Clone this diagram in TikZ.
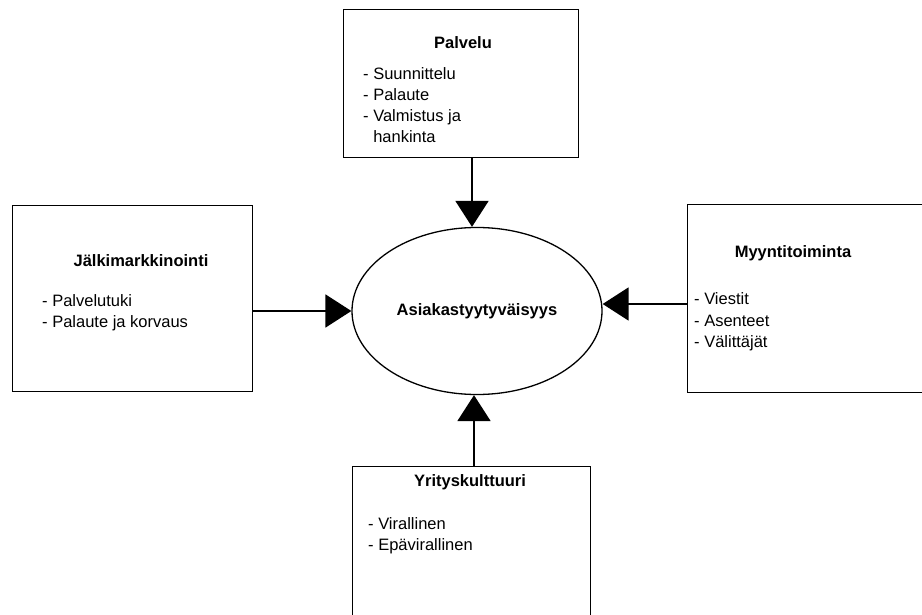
\documentclass[tikz,border=0pt]{standalone}
\usepackage{fontspec}
\setmainfont{Liberation Sans}
\usetikzlibrary{arrows.meta,shapes.geometric}
\tikzset{
  boxshape/.style={draw, line width=1.3pt, inner sep=0pt, anchor=north west},
  ttl/.style={anchor=base, inner sep=0pt, font=\bfseries\fontsize{16.5}{21}\selectfont},
  itm/.style={anchor=base west, inner sep=0pt, font=\fontsize{16.5}{21}\selectfont},
  arr/.style={line width=2pt, -{Triangle[length=26pt,width=33pt]}}
}
\begin{document}
\begin{tikzpicture}[x=1pt,y=-1pt]
\useasboundingbox[fill=white] (0,0) rectangle (922,615);
% boxes
\node[boxshape, minimum width=235pt, minimum height=148pt] (palvelu) at (343,9) {};
\node[boxshape, minimum width=240pt, minimum height=186pt] (jalki) at (12,205) {};
\node[boxshape, minimum width=260pt, minimum height=188pt] (myynti) at (687,204) {};
\node[boxshape, minimum width=238pt, minimum height=170pt] (yritys) at (352,466) {};
% ellipse
\node[ellipse, draw, line width=1.3pt, inner sep=0pt, minimum width=250pt, minimum height=167pt,
      font=\bfseries\fontsize{16.5}{21}\selectfont] (ell) at (477,311) {Asiakastyytyväisyys};
% Palvelu texts
\node[ttl] (pt) at (463,49) {Palvelu};
\node[itm] (p1) at (363,80) {- Suunnittelu};
\node[itm] (p2) at (363,101) {- Palaute};
\node[itm] (p3) at (363,122) {- Valmistus ja};
\node[itm] (p4) at (363,143) {\phantom{- }hankinta};
% Jälkimarkkinointi texts
\node[ttl] (jt) at (141,266) {Jälkimarkkinointi};
\node[itm] (j1) at (42,306) {- Palvelutuki};
\node[itm] (j2) at (42,327) {- Palaute ja korvaus};
% Myyntitoiminta texts
\node[ttl] (mt) at (793,258) {Myyntitoiminta};
\node[itm] (m1) at (694,305) {- Viestit};
\node[itm] (m2) at (694,326) {- Asenteet};
\node[itm] (m3) at (694,347) {- Välittäjät};
% Yrityskulttuuri texts
\node[ttl] (yt) at (470,486) {Yrityskulttuuri};
\node[itm] (y1) at (368,529) {- Virallinen};
\node[itm] (y2) at (368,550) {- Epävirallinen};
% arrows
\draw[arr] ([xshift=-5pt]ell.north |- palvelu.south) -- ([xshift=-5pt]ell.north);
\draw[arr] (jalki.east |- ell.west) -- (ell.west);
\draw[arr] ([yshift=7pt]ell.east -| myynti.west) -- ([yshift=7pt]ell.east);
\draw[arr] ([xshift=-3pt]ell.south |- yritys.north) -- ([xshift=-3pt]ell.south);
\end{tikzpicture}
\end{document}
